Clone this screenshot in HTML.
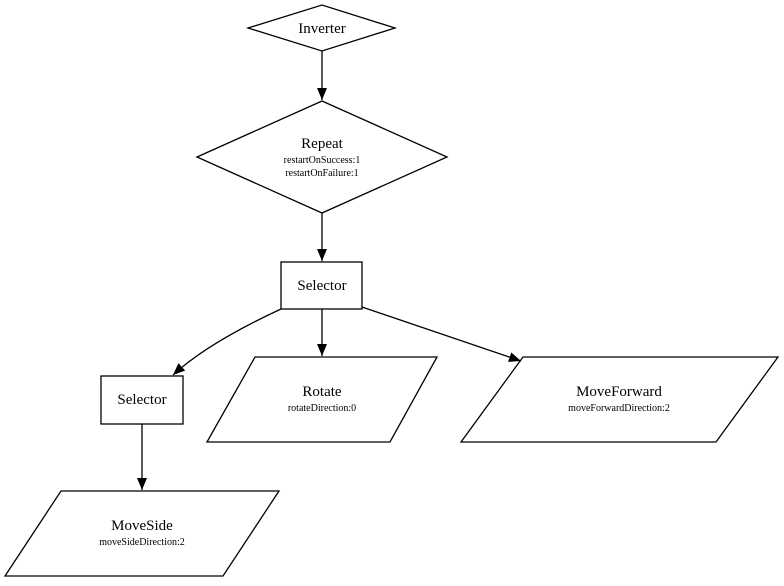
<!DOCTYPE html>
<html><head><style>html,body{margin:0;padding:0;background:#fff} text{font-family:"Liberation Serif","Times New Roman",serif}</style></head>
<body>
<svg width="784" height="581" xmlns="http://www.w3.org/2000/svg">
<defs><marker id="a" markerWidth="12" markerHeight="10" refX="12" refY="5" orient="auto" markerUnits="userSpaceOnUse"><path d="M0,0 L12,5 L0,10 z" fill="#000"/></marker></defs>
<g fill="none" stroke="#000" stroke-width="1.3">
<polygon points="248,28 322,5 395,28 322,51"/>
<polygon points="197,157 322,101 447,157 322,213"/>
<rect x="281" y="262" width="81" height="47"/>
<rect x="101" y="376" width="82" height="48"/>
<polygon points="255,357 437,357 390,442 207,442"/>
<polygon points="523,357 778,357 716,442 461,442"/>
<polygon points="61,491 279,491 223,576 5,576"/>
<line x1="322" y1="51" x2="322" y2="100" marker-end="url(#a)"/>
<line x1="322" y1="213" x2="322" y2="261" marker-end="url(#a)"/>
<line x1="322" y1="309" x2="322" y2="356" marker-end="url(#a)"/>
<path d="M281,309 C240,328 200,350 173,375" marker-end="url(#a)"/>
<line x1="362" y1="307" x2="521" y2="361" marker-end="url(#a)"/>
<line x1="142" y1="424" x2="142" y2="490" marker-end="url(#a)"/>
</g>
<g text-anchor="middle" fill="#000">
<text x="322" y="33" font-size="15">Inverter</text>
<text x="322" y="148" font-size="15">Repeat</text>
<text x="322" y="163" font-size="10">restartOnSuccess:1</text>
<text x="322" y="176" font-size="10">restartOnFailure:1</text>
<text x="322" y="290" font-size="15">Selector</text>
<text x="142" y="404" font-size="15">Selector</text>
<text x="322" y="396" font-size="15">Rotate</text>
<text x="322" y="411" font-size="10">rotateDirection:0</text>
<text x="619" y="396" font-size="15">MoveForward</text>
<text x="619" y="411" font-size="10">moveForwardDirection:2</text>
<text x="142" y="530" font-size="15">MoveSide</text>
<text x="142" y="545" font-size="10">moveSideDirection:2</text>
</g>
</svg>
</body></html>
